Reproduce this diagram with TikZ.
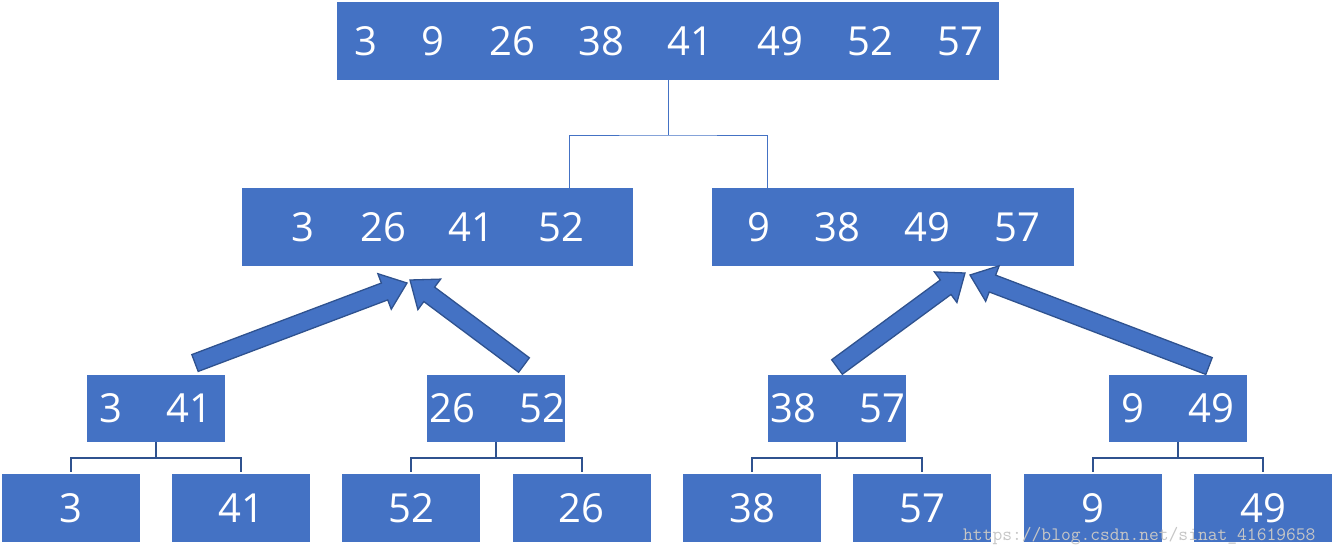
\documentclass[tikz,border=0pt]{standalone}
\usepackage{fontspec}
\setmainfont{Open Sans}
\usetikzlibrary{calc}
\definecolor{boxblue}{HTML}{4472C4}
\definecolor{edgeblue}{HTML}{2F528F}
\newcommand\blkarrow[2]{%
  \coordinate (hb) at ($(#2)!24pt!(#1)$);
  \draw[arrowbody] ($(#1)!9pt!90:(#2)$) -- ($(hb)!9pt!90:(#2)$) -- ($(hb)!19pt!90:(#2)$) -- (#2)
    -- ($(hb)!19pt!-90:(#2)$) -- ($(hb)!9pt!-90:(#2)$) -- ($(#1)!9pt!-90:(#2)$) -- cycle;}
\begin{document}
\begin{tikzpicture}[x=1pt,y=-1pt,
  bx/.style={fill=boxblue,draw=none,inner sep=0pt,minimum width=#1},
  bx/.default=138,
  num/.style={text=white,font=\fontsize{40}{40}\selectfont,inner sep=0pt,anchor=center},
  thinln/.style={draw=boxblue,line width=1pt},
  brk/.style={draw=edgeblue,line width=2pt},
  arrowbody/.style={fill=boxblue,draw=edgeblue,line width=1.3pt,line join=miter}]
\useasboundingbox (0,0) rectangle (1335,557);
% top
\node[bx=662,minimum height=78] (top) at (668,41) {};
\foreach \v/\x [count=\i] in {3/366,9/433,26/512,38/601,41/690,49/780,52/870,57/960}
  \node[num] (t\i) at (\x,41) {\v};
% middle
\node[bx=391,minimum height=78] (ml) at (437.5,227) {};
\node[bx=362,minimum height=78] (mr) at (893,227) {};
\foreach \v/\x [count=\i] in {3/303,26/383,41/471,52/561}
  \node[num] (ml\i) at (\x,227) {\v};
\foreach \v/\x [count=\i] in {9/759,38/837,49/927,57/1017}
  \node[num] (mr\i) at (\x,227) {\v};
% level 3
\node[bx,minimum height=67] (A) at (156,408.5) {};
\node[bx,minimum height=67] (B) at (496,408.5) {};
\node[bx,minimum height=67] (C) at (837,408.5) {};
\node[bx,minimum height=67] (D) at (1178,408.5) {};
\node[num] (a1) at (111,408) {3};
\node[num] (a2) at (189,408) {41};
\node[num] (b1) at (452,408) {26};
\node[num] (b2) at (542,408) {52};
\node[num] (c1) at (793,408) {38};
\node[num] (c2) at (882,408) {57};
\node[num] (d1) at (1133,408) {9};
\node[num] (d2) at (1211,408) {49};
% leaves
\foreach \v/\x [count=\i] in {3/70.5,41/241,52/411,26/581.5,38/752,57/922,9/1092.5,49/1263}
  \node[bx,minimum height=68] (L\i) at (\x,508) {};
\foreach \v/\x [count=\i] in {3/70.5,41/241,52/411,26/581.5,38/752,57/922,9/1092.5,49/1263}
  \node[num] (lt\i) at (\x,508) {\v};
% top connector
\coordinate (j) at (668,135);
\draw[thinln] (top.south) -- (j);
\draw[thinln] ([xshift=131.5]ml.north) |- (j) -| ([xshift=-126]mr.north);
% brackets
\foreach \p/\l/\r in {A/L1/L2,B/L3/L4,C/L5/L6,D/L7/L8}{
  \draw[brk] (\p.south) -- ([yshift=-16]\p.south);
  \draw[brk] ([yshift=2]\l.north) |- ([yshift=-16]\p.south) -| ([yshift=2]\r.north);
}
% arrows
\coordinate (s1) at (195,363); \coordinate (e1) at (407,283);
\coordinate (s2) at (524,365); \coordinate (e2) at (410,280);
\coordinate (s3) at (837,367); \coordinate (e3) at (965,273);
\coordinate (s4) at (1209,366); \coordinate (e4) at (970,275);
\blkarrow{s1}{e1}
\blkarrow{s2}{e2}
\blkarrow{s3}{e3}
\blkarrow{s4}{e4}
% watermark
\node[anchor=west,inner sep=0pt,text=gray!45,font=\ttfamily\fontsize{19}{19}\selectfont] (wm) at (963,536) {https://blog.csdn.net/sinat\_41619658};
\end{tikzpicture}
\end{document}
